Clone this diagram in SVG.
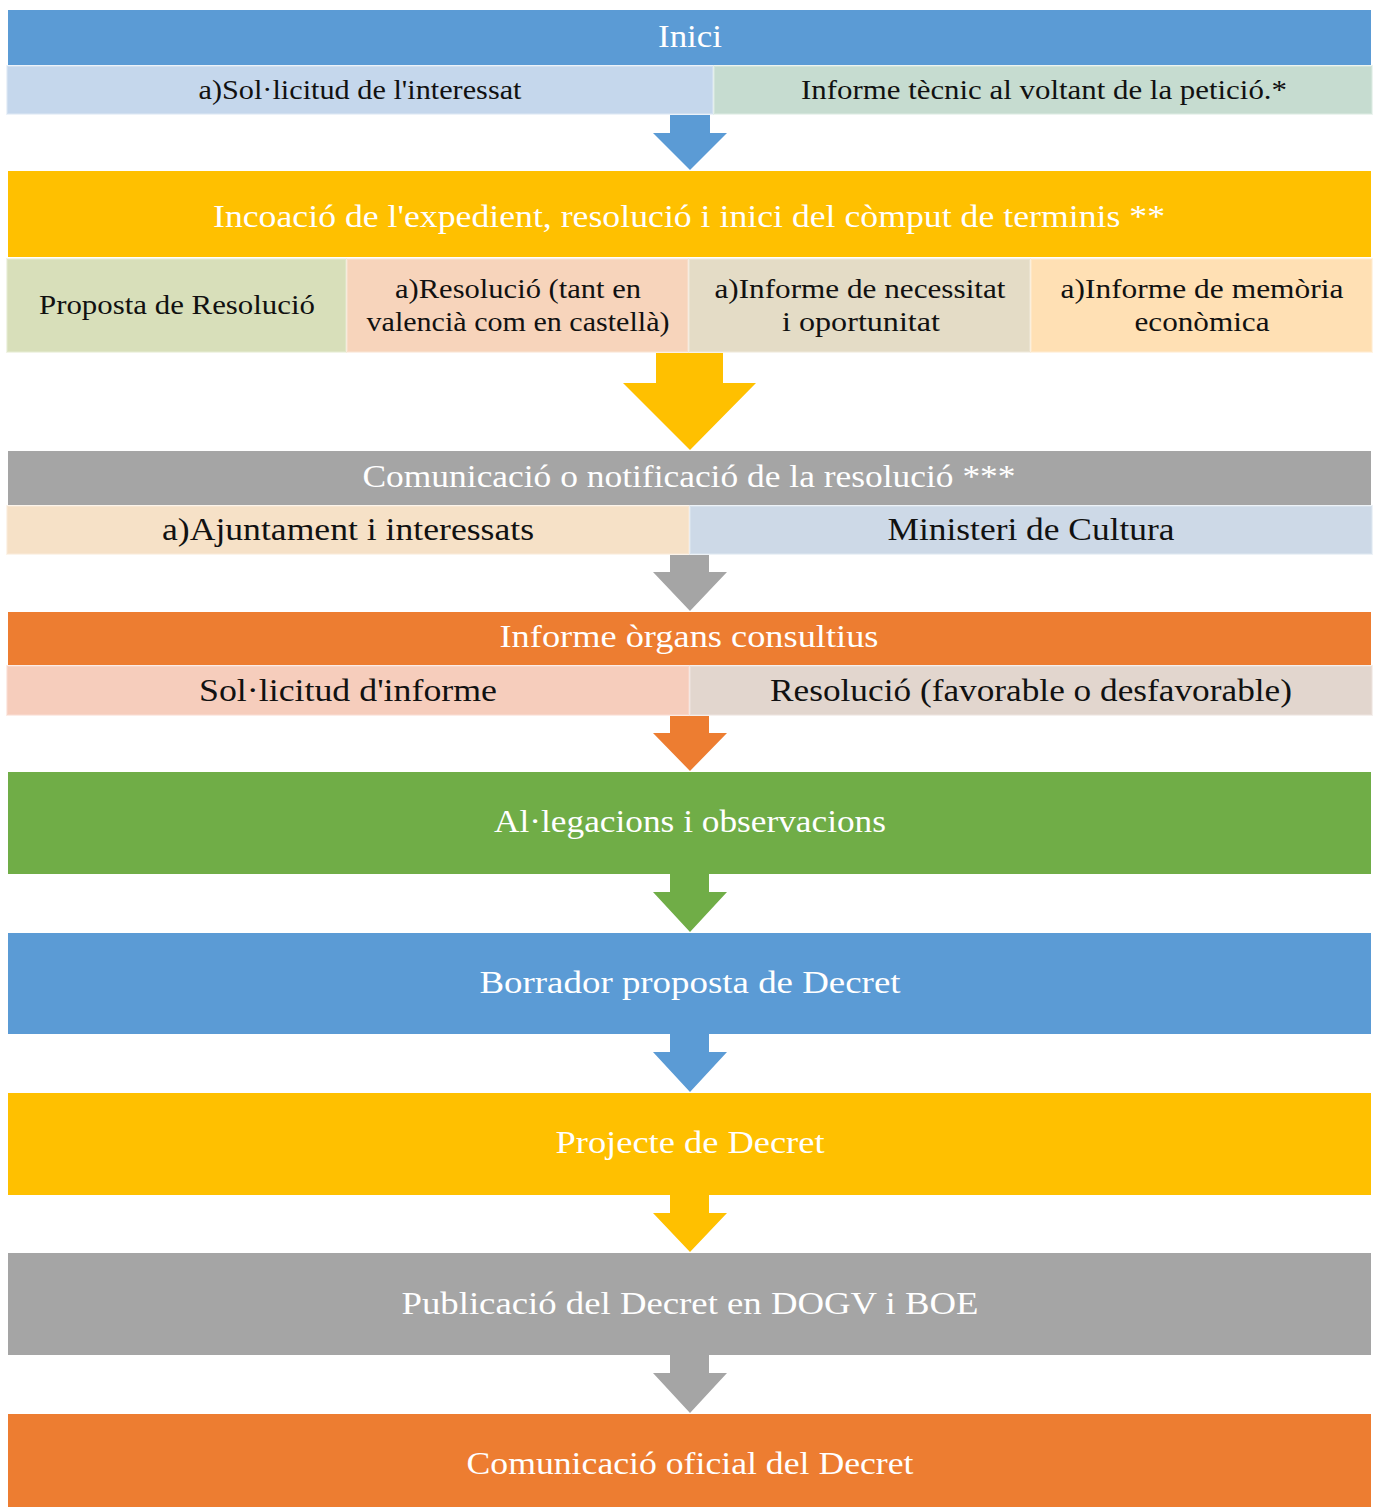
<svg xmlns="http://www.w3.org/2000/svg" width="1376" height="1508" viewBox="0 0 1376 1508">
<style>
text{font-family:"Liberation Serif","DejaVu Serif",serif;text-anchor:middle}
.h{fill:#fff;font-size:32px}
.s{fill:#111;font-size:27px}
.m{fill:#111;font-size:31px}
.sub{stroke-width:2;stroke-opacity:0.55}
</style>
<rect width="1376" height="1508" fill="#fff"/>
<g id="connectors">
<polygon points="670,115 710,115 710,133 727,133 690,170 653,133 670,133" fill="#5B9BD5"/>
<polygon points="656,353 723,353 723,383 756,383 690,450 623,383 656,383" fill="#FFC000"/>
<polygon points="670,555 709,555 709,572 727,572 690,611 653,572 670,572" fill="#A5A5A5"/>
<polygon points="670,716 709,716 709,733 727,733 690,771 653,733 670,733" fill="#ED7D31"/>
<polygon points="670,874 709,874 709,892 727,892 690,932 653,892 670,892" fill="#70AD47"/>
<polygon points="670,1034 709,1034 709,1052 727,1052 690,1092 653,1052 670,1052" fill="#5B9BD5"/>
<polygon points="670,1195 709,1195 709,1213 727,1213 690,1252 653,1213 670,1213" fill="#FFC000"/>
<polygon points="670,1355 709,1355 709,1373 727,1373 690,1413 653,1373 670,1373" fill="#A5A5A5"/>
</g>
<g id="inici">
<rect x="8" y="10" width="1363" height="55" fill="#5B9BD5"/>
<text class="h" x="690" y="47" textLength="64" lengthAdjust="spacingAndGlyphs">Inici</text>
</g>
<g id="solicitud">
<rect class="sub" x="7" y="66" width="706" height="48" fill="#C5D7EC" stroke="#DCE7F4"/>
<text class="s" x="360" y="99" textLength="323" lengthAdjust="spacingAndGlyphs">a)Sol·licitud de l'interessat</text>
</g>
<g id="informe-tecnic">
<rect class="sub" x="714" y="66" width="658" height="48" fill="#C6DCD0" stroke="#DCEBE2"/>
<text class="s" x="1044" y="99" textLength="486" lengthAdjust="spacingAndGlyphs">Informe tècnic al voltant de la petició.*</text>
</g>
<g id="incoacio">
<rect x="8" y="171" width="1363" height="86" fill="#FFC000"/>
<text class="h" x="689" y="227" textLength="952" lengthAdjust="spacingAndGlyphs">Incoació de l'expedient, resolució i inici del còmput de terminis **</text>
</g>
<g id="proposta">
<rect class="sub" x="7" y="259" width="339" height="93" fill="#D8DFBA" stroke="#E6EBD2"/>
<text class="s" x="177" y="314" textLength="276" lengthAdjust="spacingAndGlyphs">Proposta de Resolució</text>
</g>
<g id="resolucio">
<rect class="sub" x="347" y="259" width="341" height="93" fill="#F7D4BB" stroke="#FAE3D3"/>
<text class="s" x="518" y="298" textLength="246" lengthAdjust="spacingAndGlyphs">a)Resolució (tant en</text>
<text class="s" x="518" y="331" textLength="303" lengthAdjust="spacingAndGlyphs">valencià com en castellà)</text>
</g>
<g id="necessitat">
<rect class="sub" x="689" y="259" width="341" height="93" fill="#E4DCC6" stroke="#EEE9DB"/>
<text class="s" x="860" y="298" textLength="291" lengthAdjust="spacingAndGlyphs">a)Informe de necessitat</text>
<text class="s" x="861" y="331" textLength="158" lengthAdjust="spacingAndGlyphs">i oportunitat</text>
</g>
<g id="memoria">
<rect class="sub" x="1031" y="259" width="341" height="93" fill="#FFE0B4" stroke="#FFEBCF"/>
<text class="s" x="1202" y="298" textLength="283" lengthAdjust="spacingAndGlyphs">a)Informe de memòria</text>
<text class="s" x="1202" y="331" textLength="135" lengthAdjust="spacingAndGlyphs">econòmica</text>
</g>
<g id="comunicacio">
<rect x="8" y="451" width="1363" height="54" fill="#A5A5A5"/>
<text class="h" x="689" y="487" textLength="653" lengthAdjust="spacingAndGlyphs">Comunicació o notificació de la resolució ***</text>
</g>
<g id="ajuntament">
<rect class="sub" x="7" y="506" width="682" height="48" fill="#F6E1C7" stroke="#FAEBD9"/>
<text class="m" x="348" y="540" textLength="372" lengthAdjust="spacingAndGlyphs">a)Ajuntament i interessats</text>
</g>
<g id="ministeri">
<rect class="sub" x="690" y="506" width="682" height="48" fill="#CDD9E7" stroke="#DFE7F1"/>
<text class="m" x="1031" y="540" textLength="287" lengthAdjust="spacingAndGlyphs">Ministeri de Cultura</text>
</g>
<g id="organs">
<rect x="8" y="612" width="1363" height="53" fill="#ED7D31"/>
<text class="h" x="689" y="647" textLength="379" lengthAdjust="spacingAndGlyphs">Informe òrgans consultius</text>
</g>
<g id="sol-informe">
<rect class="sub" x="7" y="666" width="682" height="49" fill="#F6CDBC" stroke="#F9DDD1"/>
<text class="m" x="348" y="701" textLength="298" lengthAdjust="spacingAndGlyphs">Sol·licitud d'informe</text>
</g>
<g id="resolucio-fav">
<rect class="sub" x="690" y="666" width="682" height="49" fill="#E2D6CE" stroke="#ECE4DE"/>
<text class="m" x="1031" y="701" textLength="522" lengthAdjust="spacingAndGlyphs">Resolució (favorable o desfavorable)</text>
</g>
<g id="allegacions">
<rect x="8" y="772" width="1363" height="102" fill="#70AD47"/>
<text class="h" x="690" y="832" textLength="392" lengthAdjust="spacingAndGlyphs">Al·legacions i observacions</text>
</g>
<g id="borrador">
<rect x="8" y="933" width="1363" height="101" fill="#5B9BD5"/>
<text class="h" x="690" y="993" textLength="421" lengthAdjust="spacingAndGlyphs">Borrador proposta de Decret</text>
</g>
<g id="projecte">
<rect x="8" y="1093" width="1363" height="102" fill="#FFC000"/>
<text class="h" x="690" y="1153" textLength="269" lengthAdjust="spacingAndGlyphs">Projecte de Decret</text>
</g>
<g id="publicacio">
<rect x="8" y="1253" width="1363" height="102" fill="#A5A5A5"/>
<text class="h" x="690" y="1314" textLength="577" lengthAdjust="spacingAndGlyphs">Publicació del Decret en DOGV i BOE</text>
</g>
<g id="comunicacio-oficial">
<rect x="8" y="1414" width="1363" height="93" fill="#ED7D31"/>
<text class="h" x="690" y="1474" textLength="447" lengthAdjust="spacingAndGlyphs">Comunicació oficial del Decret</text>
</g>
</svg>
